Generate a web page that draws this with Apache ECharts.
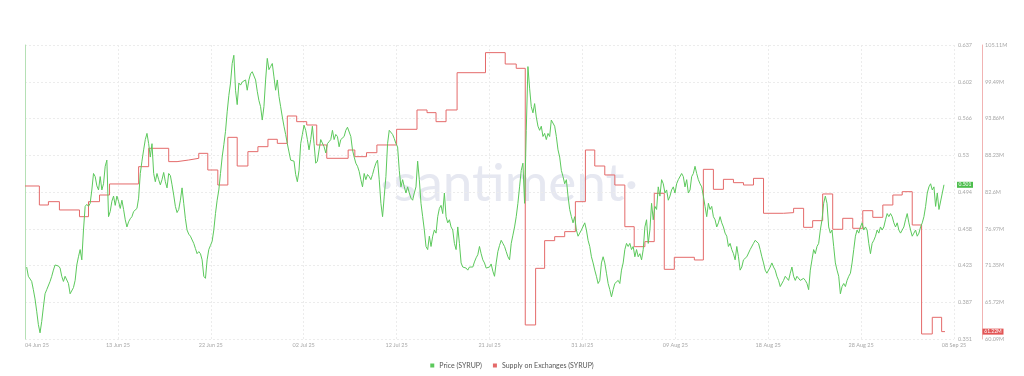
<!DOCTYPE html>
<html>
<head>
<meta charset="utf-8">
<script src="https://cdn.jsdelivr.net/npm/echarts@6/dist/echarts.min.js"></script>
<style>
html,body{margin:0;padding:0;background:#fff;}
#chart{width:1024px;height:376px;}
</style>
</head>
<body>
<div id="chart"></div>
<script>
// ---- x axis: 04 Jun 25 .. 08 Sep 25 (96 days), labels every 9.6 days
var xTickLabels = ['04 Jun 25','13 Jun 25','22 Jun 25','02 Jul 25','12 Jul 25','21 Jul 25','31 Jul 25','09 Aug 25','18 Aug 25','28 Aug 25','08 Sep 25'];
var TOTAL_DAYS = 96;
var X_INTERVAL = 9.6;
var SAMPLES = 556;                 // price samples across the full span
var DAYS_PER_SAMPLE = TOTAL_DAYS / SAMPLES;

// ---- price axis ticks
var priceTickLabels = ['0.351','0.387','0.423','0.458','0.494','0.53','0.566','0.602','0.637'];
var PRICE_MIN = 0.351, PRICE_MAX = 0.637, PRICE_STEP = 0.03575;

// ---- supply axis ticks
var supplyTickLabels = ['60.09M','65.72M','71.35M','76.97M','82.6M','88.23M','93.86M','99.49M','105.11M'];
var SUPPLY_MIN = 60.09, SUPPLY_MAX = 105.11, SUPPLY_STEP = 5.6275;

// ---- Price (SYRUP), one value per sample starting at sample 1
var PRICE_START_SAMPLE = 1;
var price = [
0.421,0.412,0.413,0.407,0.399,0.390,0.378,0.365,0.357,0.368,0.382,0.395,0.399,0.399,0.407,0.412,0.418,0.423,0.422,0.422,
0.420,0.412,0.407,0.412,0.413,0.405,0.395,0.395,0.401,0.408,0.423,0.431,0.438,0.428,0.457,0.480,0.482,0.480,0.483,0.496,
0.512,0.509,0.500,0.496,0.509,0.496,0.502,0.519,0.525,0.470,0.475,0.485,0.490,0.481,0.490,0.485,0.478,0.486,0.477,0.467,
0.460,0.465,0.468,0.470,0.475,0.475,0.478,0.488,0.512,0.524,0.535,0.545,0.551,0.541,0.528,0.541,0.512,0.504,0.512,0.506,
0.501,0.506,0.513,0.504,0.498,0.512,0.510,0.501,0.491,0.480,0.474,0.477,0.486,0.498,0.483,0.468,0.457,0.453,0.451,0.451,
0.444,0.439,0.434,0.436,0.434,0.428,0.412,0.410,0.428,0.438,0.442,0.446,0.457,0.473,0.486,0.496,0.512,0.528,0.540,0.553,
0.572,0.588,0.600,0.619,0.627,0.593,0.579,0.600,0.598,0.601,0.600,0.603,0.593,0.603,0.609,0.611,0.610,0.603,0.592,0.583,
0.577,0.564,0.577,0.603,0.624,0.613,0.616,0.619,0.606,0.593,0.603,0.587,0.577,0.567,0.558,0.550,0.541,0.533,0.525,0.525,
0.524,0.511,0.504,0.515,0.541,0.550,0.559,0.554,0.545,0.535,0.545,0.558,0.541,0.522,0.524,0.535,0.545,0.545,0.538,0.532,
0.541,0.543,0.545,0.554,0.545,0.550,0.548,0.538,0.545,0.545,0.548,0.554,0.557,0.556,0.548,0.535,0.528,0.522,0.519,0.514,
0.506,0.499,0.512,0.506,0.511,0.509,0.506,0.511,0.517,0.522,0.525,0.506,0.483,0.470,0.490,0.509,0.541,0.554,0.554,0.550,
0.546,0.541,0.538,0.515,0.499,0.506,0.499,0.493,0.499,0.493,0.488,0.486,0.493,0.499,0.524,0.506,0.483,0.470,0.457,0.441,
0.438,0.451,0.441,0.451,0.457,0.454,0.470,0.478,0.481,0.473,0.493,0.470,0.464,0.467,0.460,0.457,0.444,0.438,0.460,0.444,
0.425,0.421,0.421,0.420,0.418,0.421,0.421,0.421,0.426,0.430,0.433,0.441,0.434,0.428,0.425,0.420,0.419,0.421,0.424,0.417,
0.412,0.425,0.436,0.442,0.447,0.444,0.441,0.436,0.431,0.428,0.444,0.452,0.460,0.470,0.483,0.499,0.515,0.522,0.483,0.554,
0.616,0.595,0.577,0.571,0.580,0.567,0.558,0.554,0.558,0.548,0.551,0.545,0.551,0.548,0.564,0.564,0.558,0.548,0.535,0.528,
0.515,0.509,0.502,0.506,0.490,0.477,0.470,0.464,0.470,0.457,0.451,0.454,0.457,0.457,0.464,0.457,0.447,0.441,0.431,0.425,
0.418,0.412,0.405,0.408,0.425,0.431,0.425,0.415,0.405,0.399,0.392,0.399,0.405,0.405,0.408,0.405,0.418,0.425,0.438,0.444,
0.441,0.444,0.438,0.441,0.431,0.438,0.431,0.434,0.428,0.438,0.460,0.467,0.444,0.457,0.483,0.467,0.480,0.477,0.499,0.490,
0.506,0.502,0.493,0.496,0.486,0.490,0.496,0.499,0.493,0.502,0.506,0.506,0.512,0.509,0.499,0.506,0.493,0.496,0.509,0.512,
0.519,0.512,0.506,0.502,0.499,0.490,0.480,0.470,0.483,0.477,0.480,0.470,0.467,0.460,0.464,0.470,0.464,0.460,0.454,0.451,
0.441,0.444,0.438,0.434,0.428,0.441,0.431,0.418,0.421,0.428,0.428,0.431,0.431,0.438,0.438,0.444,0.447,0.447,0.444,0.438,
0.431,0.425,0.418,0.415,0.415,0.421,0.425,0.421,0.418,0.412,0.408,0.402,0.402,0.408,0.412,0.412,0.408,0.415,0.421,0.412,
0.408,0.412,0.412,0.408,0.408,0.410,0.408,0.405,0.399,0.418,0.428,0.438,0.434,0.441,0.444,0.457,0.467,0.483,0.490,0.483,
0.460,0.454,0.457,0.441,0.425,0.418,0.412,0.395,0.402,0.405,0.402,0.408,0.412,0.415,0.425,0.438,0.451,0.457,0.454,0.460,
0.464,0.457,0.460,0.457,0.444,0.434,0.444,0.447,0.451,0.457,0.454,0.460,0.457,0.460,0.467,0.473,0.470,0.473,0.470,0.464,
0.460,0.464,0.457,0.454,0.457,0.460,0.467,0.473,0.464,0.457,0.451,0.454,0.457,0.451,0.454,0.460,0.464,0.470,0.480,0.493,
0.499,0.502,0.496,0.499,0.480,0.493,0.477,0.477,0.493,0.501
];

// ---- Supply on Exchanges (SYRUP), millions: sample where each level starts, and the level
var supplyStartSample = [0,8.6,14,20.6,32.6,38,44.6,50.6,68,74,86,91,98,104,109.4,115.4,121.4,127,133.4,139.4,
145.4,151,157,162.6,168.6,174.6,180.6,193.4,197.4,204.4,210.6,222.4,234.6,240.6,246,252,258.6,275.6,287.4,294,
299.4,305.6,311,317,323,329.4,335.4,341,347,353,359,364.6,371,376.6,382.6,388.6,400.6,406,412,418,
424,430,436,442,454,460,466,471.4,477.4,483.4,489.4,495.4,501.4,507.4,513.4,519.4,525,531,536.6,543,548.6];
var supplyValues = [83.52,80.61,81.12,79.85,78.82,81.12,82.14,83.83,86.48,89.29,87.25,87.50,87.76,88.52,85.97,83.67,90.97,86.58,88.78,89.54,
90.67,90.05,94.24,93.37,92.86,89.80,87.76,89.03,88.01,88.62,89.80,92.20,95.16,94.75,93.37,95.16,100.87,103.94,102.2,101.54,
62.24,70.91,75.15,75.76,76.53,81.12,89.03,86.58,85.21,83.67,77.29,74.23,75.00,82.40,70.76,72.60,72.19,86.07,83.01,84.54,
84.03,83.67,84.69,79.34,79.44,80.10,77.19,78.21,82.30,76.89,78.57,77.04,79.74,78.72,80.61,82.14,82.65,77.55,60.86,63.41,61.22];
var SUPPLY_END_SAMPLE = 550.6;

var GREEN = '#5cc95c', RED = '#e46a6a';

var priceData = price.map(function (v, i) { return [(PRICE_START_SAMPLE + i) * DAYS_PER_SAMPLE, v]; });
var supplyData = supplyStartSample.map(function (s, i) { return [s * DAYS_PER_SAMPLE, supplyValues[i]]; });
supplyData.push([SUPPLY_END_SAMPLE * DAYS_PER_SAMPLE, supplyValues[supplyValues.length - 1]]);
var lastPrice = price[price.length - 1];
var lastSupply = supplyValues[supplyValues.length - 1];

var chart = echarts.init(document.getElementById('chart'), null, {renderer: 'canvas'});
var axisFont = {fontFamily: 'Lato', fontSize: 5.5, color: '#a8a8a8'};
chart.setOption({
  animation: false,
  backgroundColor: '#ffffff',
  graphic: [{
    type: 'text', x: 509, y: 184, z: 0, silent: true,
    style: {text: '·santiment·', fontFamily: 'Lato', fontSize: 53, fill: '#e6e8f1', textAlign: 'center', textVerticalAlign: 'middle'}
  }],
  grid: {left: 25, right: 70, top: 45, bottom: 37, containLabel: false},
  legend: {
    data: ['Price (SYRUP)', 'Supply on Exchanges (SYRUP)'],
    left: 'center', top: 357, icon: 'rect', itemWidth: 4, itemHeight: 4, itemGap: 11,
    textStyle: {fontFamily: 'Lato', fontSize: 7, color: '#555'}
  },
  xAxis: {
    type: 'value', min: 0, max: TOTAL_DAYS, interval: X_INTERVAL,
    axisLine: {show: false}, axisTick: {show: false},
    axisLabel: Object.assign({margin: 3, showMinLabel: true, showMaxLabel: true, alignMinLabel: 'left',
      formatter: function (v) { return xTickLabels[Math.round(v / X_INTERVAL)] || ''; }}, axisFont),
    splitLine: {show: true, lineStyle: {color: '#ececec', type: [2, 2], width: 1}}
  },
  yAxis: [{
    type: 'value', position: 'right', min: PRICE_MIN, max: PRICE_MAX, interval: PRICE_STEP,
    axisLine: {show: true, lineStyle: {color: '#b5e0b5', width: 1}}, axisTick: {show: false},
    axisLabel: Object.assign({margin: 4, showMinLabel: true, showMaxLabel: true,
      formatter: function (v) { return priceTickLabels[Math.round((v - PRICE_MIN) / PRICE_STEP)] || ''; }}, axisFont),
    splitLine: {show: true, lineStyle: {color: '#ececec', type: [2, 2], width: 1}}
  }, {
    type: 'value', position: 'right', offset: 28, min: SUPPLY_MIN, max: SUPPLY_MAX, interval: SUPPLY_STEP,
    axisLine: {show: true, lineStyle: {color: '#f1b3b3', width: 1}}, axisTick: {show: false},
    axisLabel: Object.assign({margin: 3, showMinLabel: true, showMaxLabel: true,
      formatter: function (v) { return supplyTickLabels[Math.round((v - SUPPLY_MIN) / SUPPLY_STEP)] || ''; }}, axisFont),
    splitLine: {show: false}
  }],
  series: [{
    name: 'Price (SYRUP)', type: 'line', yAxisIndex: 0, data: priceData,
    showSymbol: false, symbol: 'none', z: 3,
    lineStyle: {color: GREEN, width: 1}, itemStyle: {color: GREEN},
    markPoint: {
      symbol: 'rect', symbolSize: [16, 6], symbolOffset: [11, 0], silent: true,
      itemStyle: {color: '#4cbd4c'},
      label: {show: true, position: 'inside', color: '#fff', fontFamily: 'Lato', fontSize: 5, formatter: lastPrice.toFixed(3)},
      data: [{coord: [TOTAL_DAYS, lastPrice]}]
    }
  }, {
    name: 'Supply on Exchanges (SYRUP)', type: 'line', yAxisIndex: 1, data: supplyData,
    step: 'end', showSymbol: false, symbol: 'none', z: 2,
    lineStyle: {color: RED, width: 1}, itemStyle: {color: RED},
    markPoint: {
      symbol: 'rect', symbolSize: [21, 6], symbolOffset: [39, 0], silent: true,
      itemStyle: {color: '#e25555'},
      label: {show: true, position: 'inside', color: '#fff', fontFamily: 'Lato', fontSize: 5, formatter: lastSupply.toFixed(2) + 'M'},
      data: [{coord: [TOTAL_DAYS, lastSupply]}]
    }
  }]
});
</script>
</body>
</html>
